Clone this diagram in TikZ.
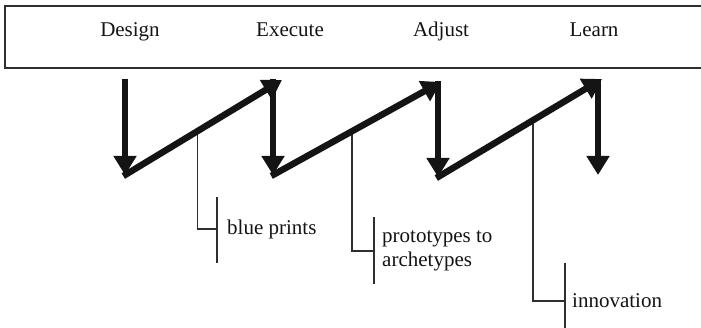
\documentclass[tikz,border=0pt]{standalone}
\usepackage{fontspec}
\setmainfont{Liberation Serif}
\usetikzlibrary{arrows.meta,calc}
\definecolor{ink}{HTML}{141414}
\definecolor{rule}{HTML}{2E2E2E}
\begin{document}
\begin{tikzpicture}[x=1pt,y=-1pt,
  phase/.style={anchor=base,inner sep=0pt,font=\fontsize{21}{24}\selectfont,text=ink},
  note/.style={anchor=west,inner sep=0pt,align=left,font=\fontsize{21}{24}\selectfont,text=ink},
  flow/.style={draw=ink,line width=6.5pt,-{Triangle[length=19pt,width=22pt]}},
  leader/.style={draw=rule,line width=1.4pt},
  frame/.style={draw=rule,line width=1.6pt}]
\useasboundingbox (0,0) rectangle (701,328);

% header band with the four phases
\draw[frame] (5,6) rectangle (730,68);
\node[phase] (design)  at (130,37) {Design};
\node[phase] (execute) at (290,37) {Execute};
\node[phase] (adjust)  at (441,37) {Adjust};
\node[phase] (learn)   at (594,37) {Learn};

% saw-tooth cycle: tops and bottoms of each stroke
\coordinate (top1) at (125,79);
\coordinate (bot1) at (125,175);
\coordinate (top2) at (273,79);
\coordinate (bot2) at (273,175);
\coordinate (top3) at (438,81);
\coordinate (bot3) at (438,177);
\coordinate (top4) at (598,79);
\coordinate (bot4) at (598,175);
\coordinate (rise1) at (282,80);
\coordinate (rise2) at (441,82);
\coordinate (rise3) at (602,79);

% leader lines hang from the rising strokes
\coordinate (hook1) at ($(bot1)!0.46!(rise1)$);
\coordinate (hook2) at ($(bot2)!0.47!(rise2)$);
\coordinate (hook3) at ($(bot3)!0.58!(rise3)$);
\coordinate (elbow1) at (hook1 |- 0,229);
\coordinate (elbow2) at (hook2 |- 0,251);
\coordinate (elbow3) at (hook3 |- 0,301);
\coordinate (bar1) at (217,229);
\coordinate (bar2) at (374,251);
\coordinate (bar3) at (565,301);

\draw[leader] (hook1) -- (elbow1) -- (bar1);
\draw[leader] (hook2) -- (elbow2) -- (bar2);
\draw[leader] (hook3) -- (elbow3) -- (bar3);
\draw[leader] (217,197) -- (217,263);
\draw[leader] (374,217) -- (374,284);
\draw[leader] (565,263) -- (565,332);

\node[note] (blue)  at (227,229) {blue prints};
\node[note] (proto) at (382,251) {prototypes to\\archetypes};
\node[note] (innov) at (572,301) {innovation};

% thick arrows
\draw[flow] (top1) -- (bot1);
\draw[flow] (top2) -- (bot2);
\draw[flow] (top3) -- (bot3);
\draw[flow] (top4) -- (bot4);
\draw[flow,shorten <=-2pt] (bot1) -- (rise1);
\draw[flow,shorten <=-2pt] (bot2) -- (rise2);
\draw[flow,shorten <=-2pt] (bot3) -- (rise3);
\end{tikzpicture}
\end{document}
